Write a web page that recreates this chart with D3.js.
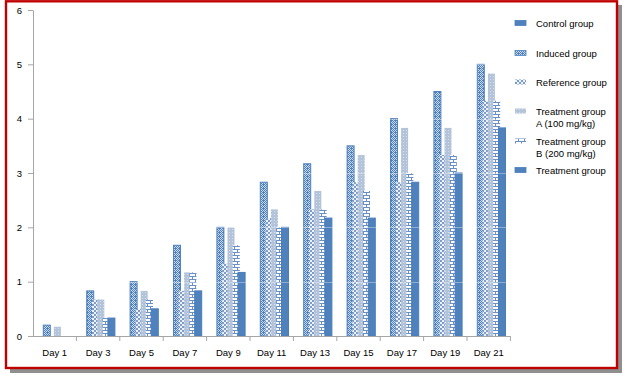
<!DOCTYPE html>
<html>
<head>
<meta charset="utf-8">
<script src="https://cdn.jsdelivr.net/npm/d3@7"></script>
<style>
  html, body { margin: 0; padding: 0; background: #fff; }
  svg { display: block; font-family: "Liberation Sans", Arial, sans-serif; }
</style>
</head>
<body>
<div id="chart"></div>
<script>
  // data
  const days = ["Day 1", "Day 3", "Day 5", "Day 7", "Day 9", "Day 11", "Day 13", "Day 15", "Day 17", "Day 19", "Day 21"];
  const controlGroup = [0, 0, 0, 0, 0, 0, 0, 0, 0, 0, 0];
  const inducedGroup = [0.2, 0.83, 1.0, 1.67, 2.0, 2.83, 3.17, 3.5, 4.0, 4.5, 5.0];
  const referenceGroup = [0, 0.67, 0.5, 0.83, 1.33, 2.17, 2.33, 2.83, 2.83, 3.33, 4.33];
  const treatmentA = [0.17, 0.67, 0.83, 1.17, 2.0, 2.33, 2.67, 3.33, 3.83, 3.83, 4.83];
  const treatmentB = [0, 0.33, 0.67, 1.17, 1.67, 2.0, 2.33, 2.67, 3.0, 3.33, 4.33];
  const treatmentGroup = [0, 0.33, 0.5, 0.83, 1.17, 2.0, 2.17, 2.17, 2.83, 3.0, 3.83];
  const seriesNames = ["Control group", "Induced group", "Reference group",
    "Treatment group A (100 mg/kg)", "Treatment group B (200 mg/kg)", "Treatment group"];
  const legendLines = [["Control group"], ["Induced group"], ["Reference group"],
    ["Treatment group", "A (100 mg/kg)"], ["Treatment group", "B (200 mg/kg)"], ["Treatment group"]];
  const yTicks = [0, 1, 2, 3, 4, 5, 6];

  const allSeries = [controlGroup, inducedGroup, referenceGroup, treatmentA, treatmentB, treatmentGroup];
  const fills = ["#4f81bd", "url(#pInduced)", "url(#pRef)", "url(#pA)", "url(#pB)", "#4f81bd"];
  const strokes = ["#4a7ebb", "#4f81bd", "none", "none", "none", "#4a7ebb"];

  const W = 624, H = 375;
  const plot = { left: 33, right: 510.4, top: 10, bottom: 336 };

  const svg = d3.select("#chart").append("svg").attr("width", W).attr("height", H);

  // frame with shadow
  svg.append("rect").attr("x", 10).attr("y", 5).attr("width", 612).attr("height", 368).attr("fill", "#8f8f8f");
  svg.append("rect").attr("x", 6).attr("y", 1.3).attr("width", 611).attr("height", 366.7)
    .attr("fill", "#fff").attr("stroke", "#c00000").attr("stroke-width", 2.4);

  // patterns
  const defs = svg.append("defs");
  const pInd = defs.append("pattern").attr("id", "pInduced").attr("patternUnits", "userSpaceOnUse")
    .attr("width", 4).attr("height", 4);
  pInd.append("rect").attr("width", 4).attr("height", 4).attr("fill", "#4f81bd");
  [[1, 0], [0, 1], [2, 1], [1, 2], [3, 2], [2, 3], [0, 3]].forEach(([px, py]) => {
    pInd.append("rect").attr("x", px).attr("y", py).attr("width", 1).attr("height", 1)
      .attr("fill", (px + py) % 2 ? "#c9d8ec" : "#e8eef7");
  });

  const pRef = defs.append("pattern").attr("id", "pRef").attr("patternUnits", "userSpaceOnUse")
    .attr("width", 4).attr("height", 4);
  pRef.append("rect").attr("width", 4).attr("height", 4).attr("fill", "#eef2f8");
  pRef.append("rect").attr("x", 0).attr("y", 0).attr("width", 2).attr("height", 2).attr("fill", "#7d9dca");
  pRef.append("rect").attr("x", 2).attr("y", 2).attr("width", 2).attr("height", 2).attr("fill", "#7d9dca");

  const pA = defs.append("pattern").attr("id", "pA").attr("patternUnits", "userSpaceOnUse")
    .attr("width", 3).attr("height", 3);
  pA.append("rect").attr("width", 3).attr("height", 3).attr("fill", "#b3c4da");
  pA.append("rect").attr("x", 1).attr("y", 1).attr("width", 1).attr("height", 1).attr("fill", "#d3deea");

  const pB = defs.append("pattern").attr("id", "pB").attr("patternUnits", "userSpaceOnUse")
    .attr("width", 6).attr("height", 6);
  pB.append("rect").attr("width", 6).attr("height", 6).attr("fill", "#fbfcfe");
  pB.append("rect").attr("x", 0).attr("y", 0).attr("width", 6).attr("height", 1).attr("fill", "#6a8fc4");
  pB.append("rect").attr("x", 0).attr("y", 3).attr("width", 6).attr("height", 1).attr("fill", "#6a8fc4");
  pB.append("rect").attr("x", 0).attr("y", 0).attr("width", 1).attr("height", 3).attr("fill", "#6a8fc4");
  pB.append("rect").attr("x", 3).attr("y", 3).attr("width", 1).attr("height", 3).attr("fill", "#6a8fc4");

  // scales
  const x = d3.scaleBand().domain(days).range([plot.left, plot.right]).padding(0);
  const barW = 7;
  const xs = d3.scalePoint().domain(seriesNames).range([5, x.bandwidth() - 4.9 - barW]);
  const y = d3.scaleLinear().domain([0, 6]).range([plot.bottom, plot.top]);

  // bars, series drawn in order so later ones sit on top
  const barsG = svg.append("g");
  allSeries.forEach((vals, si) => {
    barsG.append("g").selectAll("rect")
      .data(vals.map((v, i) => ({ day: days[i], v })))
      .join("rect")
      .filter((d) => d.v > 0)
      .attr("x", (d) => x(d.day) + xs(seriesNames[si]))
      .attr("y", (d) => y(d.v))
      .attr("width", barW)
      .attr("height", (d) => y(0) - y(d.v))
      .attr("fill", fills[si])
      .attr("stroke", strokes[si])
      .attr("stroke-width", strokes[si] === "none" ? 0 : 1);
  });

  // faint gridlines only show up over the bars
  svg.append("g").selectAll("line").data(yTicks.filter((t) => t > 0 && t < 6)).join("line")
    .attr("x1", plot.left).attr("x2", plot.right)
    .attr("y1", (d) => Math.round(y(d)) + 0.5).attr("y2", (d) => Math.round(y(d)) + 0.5)
    .attr("stroke", "#ffffff").attr("stroke-opacity", 0.35);

  // y axis
  const yAxis = svg.append("g").attr("transform", `translate(${plot.left},0)`)
    .call(d3.axisLeft(y).tickValues(yTicks).tickFormat(d3.format("d")).tickSize(5).tickSizeOuter(0).tickPadding(6));
  yAxis.select(".domain").attr("stroke", "#a6a6a6");
  yAxis.selectAll(".tick line").attr("stroke", "#a6a6a6");
  yAxis.selectAll(".tick text").attr("font-size", 9.5).attr("fill", "#000")
    .attr("font-family", "Liberation Sans, Arial, sans-serif");

  // x axis
  const xAxis = svg.append("g").attr("transform", `translate(0,${plot.bottom})`)
    .call(d3.axisBottom(x).tickSize(0).tickPadding(13));
  xAxis.select(".domain").attr("stroke", "#a6a6a6").attr("d", `M${plot.left},0.5H${plot.right}`);
  xAxis.selectAll(".tick text").attr("font-size", 9.5).attr("fill", "#000")
    .attr("font-family", "Liberation Sans, Arial, sans-serif");
  xAxis.append("g").selectAll("line").data(days.slice(1).concat(["end"])).join("line")
    .attr("x1", (d) => d === "end" ? plot.right : x(d))
    .attr("x2", (d) => d === "end" ? plot.right : x(d))
    .attr("y1", 0).attr("y2", 5).attr("stroke", "#a6a6a6");

  // legend
  const legendY = [23, 53, 82, 111, 141, 170];
  const legend = svg.append("g");
  seriesNames.forEach((name, i) => {
    const g = legend.append("g").attr("transform", `translate(515,${legendY[i]})`);
    g.append("rect").attr("x", 0).attr("y", -2.5).attr("width", 11).attr("height", 5)
      .attr("fill", fills[i]).attr("stroke", strokes[i]).attr("stroke-width", strokes[i] === "none" ? 0 : 0.8);
    legendLines[i].forEach((line, li) => {
      g.append("text").attr("x", 21).attr("y", li * 12 + 3.5)
        .attr("font-size", 9.5).attr("fill", "#000").text(line);
    });
  });
</script>
</body>
</html>
